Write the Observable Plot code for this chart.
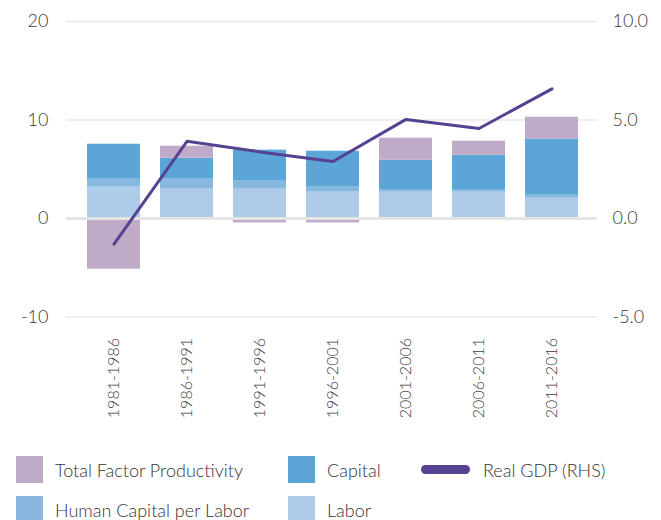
<!DOCTYPE html>
<html>
<head>
<meta charset="utf-8">
<script src="https://cdn.jsdelivr.net/npm/d3@7"></script>
<script src="https://cdn.jsdelivr.net/npm/@observablehq/plot@0.6"></script>
<style>
  body { margin: 0; background: #fff; font-family: Lato, "Open Sans", sans-serif; }
  #wrap { position: relative; width: 661px; height: 520px; overflow: hidden; }
  .item { position: absolute; display: flex; align-items: center; font-size: 18px; font-weight: 300; color: #333; white-space: nowrap; }
  .sw { width: 27px; height: 27px; margin-right: 12px; }
  .ln { width: 49px; height: 9px; border-radius: 5px; margin-right: 13px; }
</style>
</head>
<body>
<div id="wrap">
  <div id="chart"></div>
  <div id="legend"></div>
</div>
<script>
const periods = ["1981-1986", "1986-1991", "1991-1996", "1996-2001", "2001-2006", "2006-2011", "2011-2016"];
const tfp = [-5.15, 1.22, -0.45, -0.45, 2.23, 1.42, 2.2];
const capital = [3.55, 2.13, 3.15, 3.65, 3.05, 3.56, 5.71];
const humanCapital = [0.81, 1.02, 0.82, 0.51, 0.2, 0.2, 0.31];
const labor = [3.18, 2.97, 2.97, 2.67, 2.67, 2.67, 2.06];
const realGDP = [-1.3, 3.92, 3.38, 2.89, 5.03, 4.57, 6.58];

const seriesNames = ["Labor", "Human Capital per Labor", "Capital", "Total Factor Productivity"];
const seriesColors = ["#aecbe9", "#88b8e0", "#5ca5d7", "#bfaac8"];
const seriesValues = [labor, humanCapital, capital, tfp];
const lineName = "Real GDP (RHS)";
const lineColor = "#574191";
const leftTicks = [-10, 0, 10, 20];

const bars = [];
seriesNames.forEach((s, si) => periods.forEach((p, i) => bars.push({period: p, series: s, value: seriesValues[si][i]})));
const gdp = periods.map((p, i) => ({period: p, gdp: realGDP[i]}));

const chart = Plot.plot({
  width: 661,
  height: 430,
  marginLeft: 66,
  marginRight: 64,
  marginTop: 21,
  marginBottom: 113.5,
  style: {fontFamily: "Lato, sans-serif", fontSize: "18px", fontWeight: 300, color: "#3a3a3a", background: "#fff"},
  x: {type: "band", domain: periods, range: [66, 599], paddingInner: 0.28, paddingOuter: 0.258, axis: null},
  y: {domain: [-10, 20], axis: null},
  color: {domain: seriesNames, range: seriesColors},
  marks: [
    Plot.ruleY([-10, 10, 20], {stroke: "#e8e8e8", strokeWidth: 1.5}),
    Plot.barY(bars, {x: "period", y: "value", fill: "series", z: "series", order: seriesNames}),
    Plot.ruleY([0], {stroke: "#e4e4e4", strokeWidth: 3}),
    Plot.line(gdp, {x: "period", y: d => d.gdp * 2, stroke: lineColor, strokeWidth: 3}),
    Plot.axisY({anchor: "left", ticks: leftTicks, tickSize: 0, tickPadding: 18, label: null, fontSize: 18, tickFormat: d => String(d)}),
    Plot.axisY({anchor: "right", ticks: leftTicks, tickSize: 0, tickPadding: 15, label: null, fontSize: 18, tickFormat: d => (d / 2).toFixed(1)}),
    Plot.axisX({anchor: "bottom", tickRotate: -90, tickSize: 0, tickPadding: 21, label: null, fontSize: 16})
  ]
});
document.getElementById("chart").appendChild(chart);

const legend = document.getElementById("legend");
const legendItems = [
  {name: "Total Factor Productivity", color: seriesColors[3], left: 16, top: 456},
  {name: "Capital", color: seriesColors[2], left: 288, top: 456},
  {name: "Human Capital per Labor", color: seriesColors[1], left: 16, top: 496},
  {name: "Labor", color: seriesColors[0], left: 288, top: 496}
];
legendItems.forEach(it => {
  const d = document.createElement("div");
  d.className = "item";
  d.style.left = it.left + "px";
  d.style.top = it.top + "px";
  d.innerHTML = `<span class="sw" style="background:${it.color}"></span><span>${it.name}</span>`;
  legend.appendChild(d);
});
const l = document.createElement("div");
l.className = "item";
l.style.left = "421px";
l.style.top = "456px";
l.style.height = "27px";
l.innerHTML = `<span class="ln" style="background:${lineColor}"></span><span>${lineName}</span>`;
legend.appendChild(l);
</script>
</body>
</html>
